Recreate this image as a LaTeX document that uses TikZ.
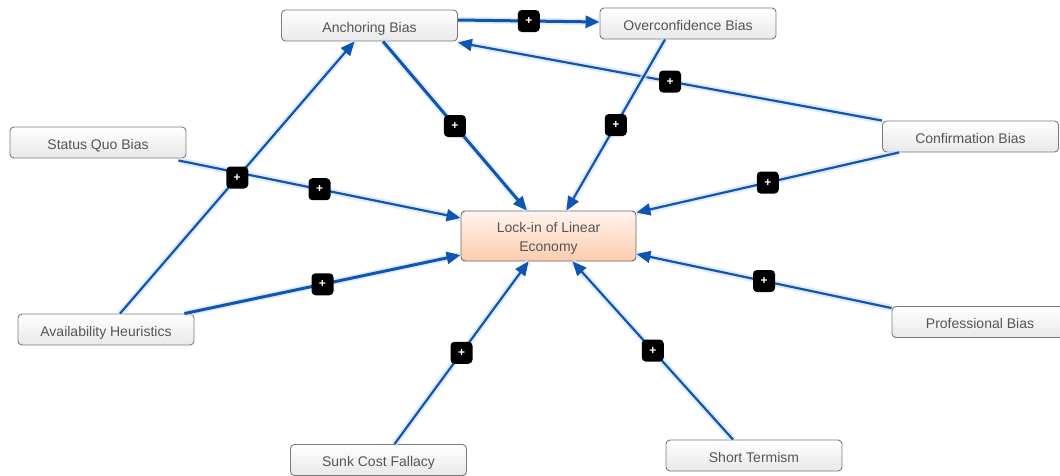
\documentclass[tikz,border=0pt]{standalone}
\usepackage{fontspec}
\setmainfont{Liberation Sans}
\usetikzlibrary{arrows.meta}
\definecolor{linkblue}{HTML}{0E56B2}
\definecolor{haloblue}{HTML}{D6E4F5}
\definecolor{boxline}{HTML}{7A7A7A}
\definecolor{boxtext}{HTML}{555555}
\definecolor{coreTop}{HTML}{FFF4EE}
\definecolor{coreBottom}{HTML}{FCCDAE}
\tikzset{
  factor/.style={draw=boxline, line width=0.9pt, rounded corners=4pt,
    top color=white, bottom color=black!9, text=boxtext,
    minimum width=176pt, minimum height=31pt, inner sep=0pt,
    text height=14pt, text depth=1pt,
    font=\fontsize{14}{16}\selectfont},
  core/.style={draw=black!60, line width=0.9pt, rounded corners=4pt,
    top color=coreTop, bottom color=coreBottom,
    minimum width=175pt, minimum height=50pt, inner sep=0pt},
  coretext/.style={text=boxtext, align=center, inner sep=0pt,
    font=\fontsize{14}{19}\selectfont},
  link/.style={draw=linkblue, line width=2.2pt,
    -{Triangle[length=14pt,width=12pt]},
    preaction={draw=haloblue, line width=6.5pt, arrows=-, opacity=0.7}},
  boldlink/.style={link, line width=3pt},
  badge/.style={fill=black, rounded corners=4pt, minimum size=22pt,
    inner sep=0pt, text=white, font=\fontsize{12}{12}\selectfont\bfseries}
}
\begin{document}
\begin{tikzpicture}[x=1pt,y=-1pt]
  \useasboundingbox (0,0) rectangle (1060,475);

  % factors
  \node[factor] (anch)  at (369.5,25.5) {Anchoring Bias};
  \node[factor] (over)  at (688,23.5)   {Overconfidence Bias};
  \node[factor] (sq)    at (98,142.5)   {Status Quo Bias};
  \node[factor] (conf)  at (970.5,136.5){Confirmation Bias};
  \node[factor] (avail) at (106,329.5)  {Availability Heuristics};
  \node[factor] (prof)  at (980,322)    {Professional Bias};
  \node[factor] (sunk)  at (378.5,460)  {Sunk Cost Fallacy};
  \node[factor] (short) at (754,455.5)  {Short Termism};
  \node[core, label={[coretext, yshift=-2pt]center:Lock-in of Linear\\Economy}]
    (lock) at (548.5,236) {};

  % influences
  \draw[boldlink] ([yshift=5.5pt]anch.east) -- coordinate[pos=.5] (m1) ([yshift=1.5pt]over.west);
  \draw[link] (conf.north west) -- coordinate[pos=.5] (m2) ([yshift=-1pt]anch.south east);
  \draw[boldlink] (anch) -- coordinate[pos=.5] (m3) (lock);
  \draw[link] ([xshift=-23pt]over.south) -- coordinate[pos=.5] (m4) ([xshift=18pt]lock.north);
  \draw[link] ([xshift=17pt]conf.south west) -- coordinate[pos=.5] (m5) ([yshift=-2pt]lock.north east);
  \draw[link] ([xshift=-8pt,yshift=-2pt]sq.south east) -- coordinate[pos=.5] (m6) ([yshift=18pt]lock.west);
  \draw[link] ([xshift=14pt]avail.north) -- coordinate[pos=.5] (m7) ([xshift=-15pt]anch.south);
  \draw[boldlink] ([xshift=-10pt]avail.north east) -- coordinate[pos=.5] (m8) ([yshift=-19pt]lock.west);
  \draw[link] ([xshift=16pt]sunk.north) -- coordinate[pos=.5] (m9) ([xshift=-20pt]lock.south);
  \draw[link] ([xshift=-21pt]short.north) -- coordinate[pos=.5] (m10) ([xshift=24pt]lock.south);
  \draw[link] ([yshift=-2pt]prof.north west) -- coordinate[pos=.5] (m11) ([yshift=-18pt]lock.east);

  % polarity badges
  \foreach \m in {m1,m2,m3,m4,m5,m6,m7,m8,m9,m10,m11}
    \node[badge] (b-\m) at (\m) {+};
\end{tikzpicture}
\end{document}
